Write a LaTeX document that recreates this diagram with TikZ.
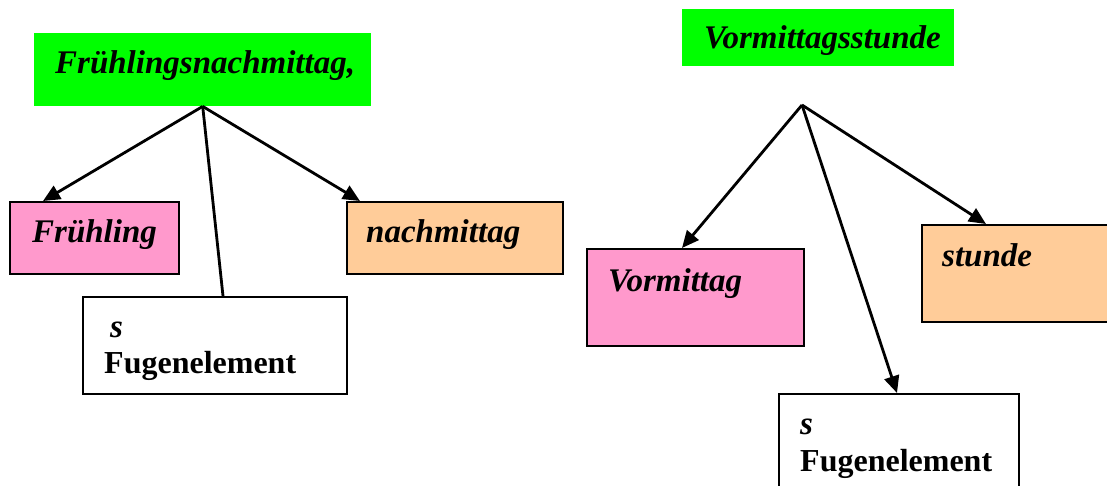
\documentclass[tikz,border=0pt]{standalone}
\usepackage{fontspec}
\setmainfont{Liberation Serif}
\usetikzlibrary{arrows.meta}
\definecolor{leafgreen}{RGB}{0,255,0}
\definecolor{rosa}{RGB}{255,153,204}
\definecolor{peach}{RGB}{255,204,153}
\tikzset{%
	head/.style = {fill=leafgreen, rectangle, inner sep=0pt, anchor=north west}, % Kompositum
	part/.style = {draw, line width=2.2pt, rectangle, inner sep=0pt, anchor=north west}, % Konstituente
	word/.style = {anchor=base west, inner sep=0pt, font=\fontsize{33}{39}\selectfont\bfseries\itshape},
	fuge/.style = {anchor=base west, inner sep=0pt, font=\fontsize{32}{38}\selectfont\bfseries},
	link/.style = {line width=2.8pt},
	arr/.style  = {link, -{Triangle[length=17pt,width=15pt]}}
}

\begin{document}
\begin{tikzpicture}[x=1pt,y=-1pt]
	\useasboundingbox (0,0) rectangle (1107,486);

	% Fruehlingsnachmittag
	\node[head, minimum width=337pt, minimum height=73pt] (kompL) at (34,33) {};
	\node[part, fill=rosa, minimum width=169pt, minimum height=72pt] (fru) at (9,201) {};
	\node[part, fill=peach, minimum width=216pt, minimum height=72pt] (nach) at (346,201) {};
	\node[part, fill=white, minimum width=264pt, minimum height=97pt] (fugL) at (82,296) {};

	\draw[arr] (kompL.south) -- ([xshift=34pt]fru.north west);
	\draw[link] (kompL.south) -- ([xshift=141pt]fugL.north west);
	\draw[arr] (kompL.south) -- ([xshift=14pt]nach.north west);

	\node[word] (kompL-txt) at (55,74) {Frühlingsnachmittag,};
	\node[word] (fru-txt) at (32,243) {Frühling};
	\node[word] (nach-txt) at (366,243) {nachmittag};
	\node[word] (fugL-s) at (110,337) {s};
	\node[fuge] (fugL-txt) at (104,373) {Fugenelement};

	% Vormittagsstunde
	\node[head, minimum width=272pt, minimum height=57pt] (kompR) at (682,9) {};
	\node[part, fill=rosa, minimum width=217pt, minimum height=97pt] (vorm) at (586,248) {};
	\node[part, fill=peach, minimum width=200pt, minimum height=97pt] (stunde) at (921,224) {};
	\node[part, fill=white, minimum width=240pt, minimum height=110pt] (fugR) at (778,393) {};
	\coordinate (gabelR) at (802,105);

	\draw[arr] (gabelR) -- ([xshift=96pt]vorm.north west);
	\draw[arr] (gabelR) -- ([xshift=119pt]fugR.north west);
	\draw[arr] (gabelR) -- ([xshift=65pt]stunde.north west);

	\node[word] (kompR-txt) at (704,49) {Vormittagsstunde};
	\node[word] (vorm-txt) at (608,291) {Vormittag};
	\node[word] (stunde-txt) at (942,266) {stunde};
	\node[word] (fugR-s) at (800,434) {s};
	\node[fuge] (fugR-txt) at (800,471) {Fugenelement};
\end{tikzpicture}
\end{document}
